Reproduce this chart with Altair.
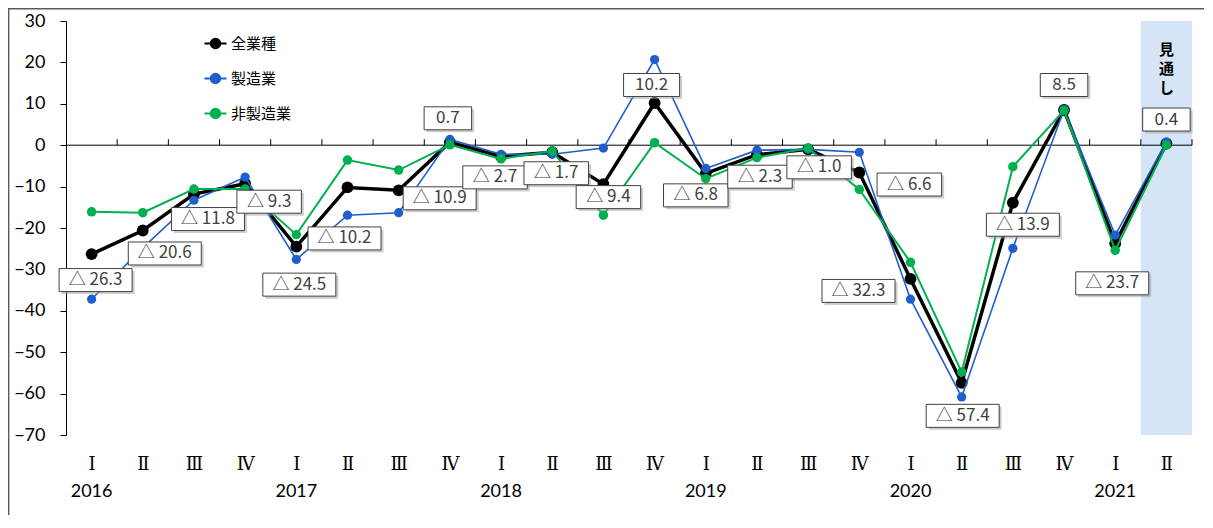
import json
import altair as alt
import pandas as pd

# ---------------- data ----------------
quarters = ["Ⅰ", "Ⅱ", "Ⅲ", "Ⅳ", "Ⅰ", "Ⅱ", "Ⅲ", "Ⅳ", "Ⅰ", "Ⅱ", "Ⅲ", "Ⅳ",
            "Ⅰ", "Ⅱ", "Ⅲ", "Ⅳ", "Ⅰ", "Ⅱ", "Ⅲ", "Ⅳ", "Ⅰ", "Ⅱ"]
years = ["2016", "", "", "", "2017", "", "", "", "2018", "", "", "",
         "2019", "", "", "", "2020", "", "", "", "2021", ""]
series_names = ["全業種", "製造業", "非製造業"]
all_industries = [-26.3, -20.6, -11.8, -9.3, -24.5, -10.2, -10.9, 0.7, -2.7, -1.7, -9.4,
                  10.2, -6.8, -2.3, -1.0, -6.6, -32.3, -57.4, -13.9, 8.5, -23.7, 0.4]
manufacturing = [-37.2, -24.8, -13.3, -7.7, -27.6, -16.9, -16.3, 1.4, -2.2, -2.2, -0.7,
                 20.7, -5.6, -1.2, -1.0, -1.7, -37.2, -60.8, -24.9, 8.6, -21.7, 0.8]
non_manufacturing = [-16.1, -16.3, -10.6, -10.6, -21.6, -3.6, -6.0, 0.1, -3.3, -1.4, -16.9,
                     0.6, -8.1, -3.0, -0.7, -10.7, -28.3, -54.8, -5.2, 8.4, -25.4, 0.0]
outlook_index = 21
outlook_text = "見通し"

# label placement (pixel offsets of each value box from its point)
label_dx = [4, 22, 14, 24, 3, -3, 41, -2, -6, 4, 5, -3, -10, 3, 11, 50, -52, 1, 10, 0, -3, 0]
label_dy = [26, 23, 25, 18, 38, 51, 8, -24, 21, 21, 13, -18, 22, 22, 18, 12, 12, 33, 22, -25, 40, -24]

# ---------------- layout ----------------
W, H = 1126, 414
Y_MIN, Y_MAX = -70, 30
BAND_PX = W / 22
PX_PER_UNIT = H / (Y_MAX - Y_MIN)

long_rows = []
for name, vals in zip(series_names, [all_industries, manufacturing, non_manufacturing]):
    for i, v in enumerate(vals):
        long_rows.append({"i": i, "v": v, "series": name})
long_df = pd.DataFrame(long_rows)

lab_rows = []
for i, v in enumerate(all_industries):
    txt = f"△ {abs(v):.1f}" if v < 0 else f"{v:.1f}"
    cx = i + label_dx[i] / BAND_PX
    cy = v - label_dy[i] / PX_PER_UNIT
    hw = (22 + 8.5 * len(txt)) / 2 / BAND_PX
    hh = 11.5 / PX_PER_UNIT
    sx = 2.5 / BAND_PX
    sy = 2.5 / PX_PER_UNIT
    lab_rows.append({"i": i, "txt": txt, "cx": cx, "cy": cy,
                     "x1": cx - hw, "x2": cx + hw, "y1": cy - hh, "y2": cy + hh,
                     "sx1": cx - hw + sx, "sx2": cx + hw + sx,
                     "sy1": cy - hh - sy, "sy2": cy + hh - sy})
lab_df = pd.DataFrame(lab_rows)

year_df = pd.DataFrame([{"i": i, "year": y} for i, y in enumerate(years) if y])
tick_df = pd.DataFrame({"b": [k - 0.5 for k in range(1, 23)], "y0": 0.0,
                        "y1": 6 / PX_PER_UNIT})
band_df = pd.DataFrame([{"x1": outlook_index - 0.5, "x2": outlook_index + 0.5,
                         "y1": Y_MIN, "y2": Y_MAX}])
one = pd.DataFrame({"a": [0]})

NUM_FONT = "Lato"
CJK_FONT = "Noto Sans CJK JP"
ROMAN_FONT = "DejaVu Serif"

xscale = alt.Scale(domain=[-0.5, 21.5], nice=False, zero=False)
yscale = alt.Scale(domain=[Y_MIN, Y_MAX], nice=False, zero=False)

x_axis = alt.Axis(values=list(range(22)),
                  labelExpr=f"{json.dumps(quarters, ensure_ascii=False)}[datum.value]",
                  ticks=False, domain=False, grid=False, title=None,
                  labelFont=ROMAN_FONT, labelFontSize=18, labelColor="#000000",
                  labelPadding=20)
y_axis = alt.Axis(values=list(range(Y_MIN, Y_MAX + 1, 10)), grid=False, title=None,
                  labelFont=NUM_FONT, labelFontSize=18, labelColor="#000000",
                  domainColor="#000000", tickColor="#000000", tickSize=6,
                  labelPadding=15)


def X(field):
    return alt.X(field, scale=xscale, axis=x_axis)


def Y(field):
    return alt.Y(field, scale=yscale, axis=y_axis)


palette = ["#000000", "#1F5FCC", "#00B050"]
legend_path = "M-1,0L1,0M-0.42,0A0.42,0.42,0,1,1,0.42,0A0.42,0.42,0,1,1,-0.42,0Z"
legend = alt.Legend(
    orient="none", legendX=137, legendY=10, title=None,
    labelFont=CJK_FONT, labelFontSize=15, labelColor="#000000",
    symbolType=legend_path, symbolSize=484, symbolStrokeWidth=2.2,
    symbolOpacity=1, rowPadding=13, labelOffset=3,
)
stroke_enc = alt.Stroke("series:N", scale=alt.Scale(domain=series_names, range=palette),
                        legend=legend)
fill_enc = alt.Fill("series:N", scale=alt.Scale(domain=series_names, range=palette),
                    legend=legend)

# background band for the outlook quarter
band = alt.Chart(band_df).mark_rect(color="#D6E4F7").encode(
    x=X("x1:Q"), x2="x2:Q", y=Y("y1:Q"), y2="y2:Q")

zero_line = alt.Chart(one).mark_rule(color="#000000", strokeWidth=1).encode(
    y=alt.datum(0, scale=yscale, axis=y_axis))

ticks = alt.Chart(tick_df).mark_rule(color="#000000", strokeWidth=1).encode(
    x=X("b:Q"), y=Y("y0:Q"), y2="y1:Q")

layers = [band, zero_line, ticks]
styles = {"全業種": (3.5, 140), "製造業": (1.6, 85), "非製造業": (2.0, 90)}
for name in series_names:
    sw, sz = styles[name]
    base = alt.Chart(long_df).transform_filter(alt.datum.series == name)
    layers.append(base.mark_line(strokeWidth=sw).encode(
        x=X("i:Q"), y=Y("v:Q"), stroke=stroke_enc))
    layers.append(base.mark_point(filled=True, size=sz, opacity=1, strokeWidth=0).encode(
        x=X("i:Q"), y=Y("v:Q"), fill=fill_enc, stroke=stroke_enc))

shadow = alt.Chart(lab_df).mark_rect(color="#9E9E9E", opacity=0.5).encode(
    x=X("sx1:Q"), x2="sx2:Q", y=Y("sy1:Q"), y2="sy2:Q")
boxes = alt.Chart(lab_df).mark_rect(fill="#FFFFFF", stroke="#404040", strokeWidth=1).encode(
    x=X("x1:Q"), x2="x2:Q", y=Y("y1:Q"), y2="y2:Q")
texts = alt.Chart(lab_df).mark_text(font=CJK_FONT, fontSize=17, color="#404040",
                                    baseline="middle", align="center", dy=0).encode(
    x=X("cx:Q"), y=Y("cy:Q"), text="txt:N")

outlook = alt.Chart(one).mark_text(text=list(outlook_text), font=CJK_FONT, fontSize=15,
                                   fontWeight="bold", color="#000000", lineHeight=19,
                                   baseline="top", align="center").encode(
    x=alt.datum(outlook_index, scale=xscale, axis=x_axis),
    y=alt.datum(24.6, scale=yscale, axis=y_axis))

year_text = alt.Chart(year_df).mark_text(font=NUM_FONT, fontSize=18, color="#000000",
                                         baseline="middle", align="center").encode(
    x=X("i:Q"), y=alt.value(H + 57), text="year:N")

frame = alt.Chart(one).mark_rect(fillOpacity=0, stroke="#595959", strokeWidth=1.4).encode(
    x=alt.value(-57.3), x2=alt.value(W + 60),
    y=alt.value(-12.3), y2=alt.value(H + 150))

layers += [shadow, boxes, texts, outlook, year_text, frame]

chart = alt.layer(*layers).properties(
    width=W, height=H,
    padding={"left": 58, "top": 13, "right": 12, "bottom": 80},
    autosize=alt.AutoSizeParams(type="none"),
).configure_view(stroke=None)

chart.save("out.html", embed_options={"renderer": "svg", "actions": False})
